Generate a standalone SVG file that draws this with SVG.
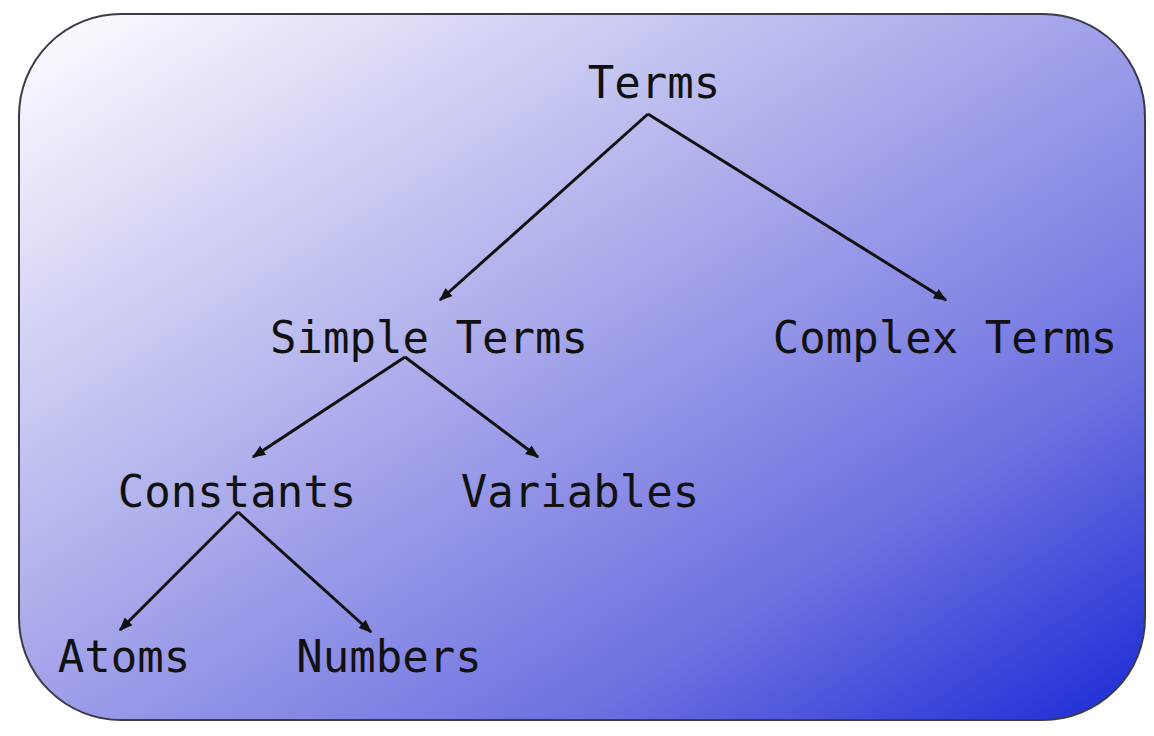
<svg xmlns="http://www.w3.org/2000/svg" width="1154" height="736" viewBox="0 0 1154 736">
  <defs>
    <linearGradient id="bg" x1="0" y1="0" x2="1" y2="1">
      <stop offset="0" stop-color="#ffffff"/>
      <stop offset="0.45" stop-color="#a9a9eb"/>
      <stop offset="0.75" stop-color="#6c70e0"/>
      <stop offset="1" stop-color="#1a2ad6"/>
    </linearGradient>
    <marker id="ah" viewBox="0 0 10 10" refX="9" refY="5" markerWidth="4.5" markerHeight="4.5" orient="auto" markerUnits="strokeWidth">
      <path d="M0,1 L10,5 L0,9 z" fill="#111"/>
    </marker>
    <style>
      .lbl { font-family: "DejaVu Sans Mono", "Liberation Mono", monospace; font-size: 44px; fill: #111; text-anchor: middle; }
      .edge { stroke: #111; stroke-width: 3; fill: none; marker-end: url(#ah); }
    </style>
  </defs>
  <rect x="0" y="0" width="1154" height="736" fill="#ffffff"/>
  <rect id="frame" x="19" y="14" width="1126" height="706" rx="102" ry="102" fill="url(#bg)" stroke="#3a3a48" stroke-width="2"/>
  <g id="connectors">
    <line class="edge" x1="648" y1="114" x2="440" y2="300"/>
    <line class="edge" x1="648" y1="114" x2="946" y2="300"/>
    <line class="edge" x1="405" y1="357" x2="253" y2="457"/>
    <line class="edge" x1="405" y1="357" x2="538" y2="457"/>
    <line class="edge" x1="238" y1="512" x2="120" y2="630"/>
    <line class="edge" x1="238" y1="512" x2="371" y2="632"/>
  </g>
  <g id="terms"><text class="lbl" x="654" y="98">Terms</text></g>
  <g id="simple-terms"><text class="lbl" x="429" y="353">Simple Terms</text></g>
  <g id="complex-terms"><text class="lbl" x="945" y="353">Complex Terms</text></g>
  <g id="constants"><text class="lbl" x="237" y="507">Constants</text></g>
  <g id="variables"><text class="lbl" x="580" y="507">Variables</text></g>
  <g id="atoms"><text class="lbl" x="124" y="672">Atoms</text></g>
  <g id="numbers"><text class="lbl" x="389" y="672">Numbers</text></g>
</svg>
